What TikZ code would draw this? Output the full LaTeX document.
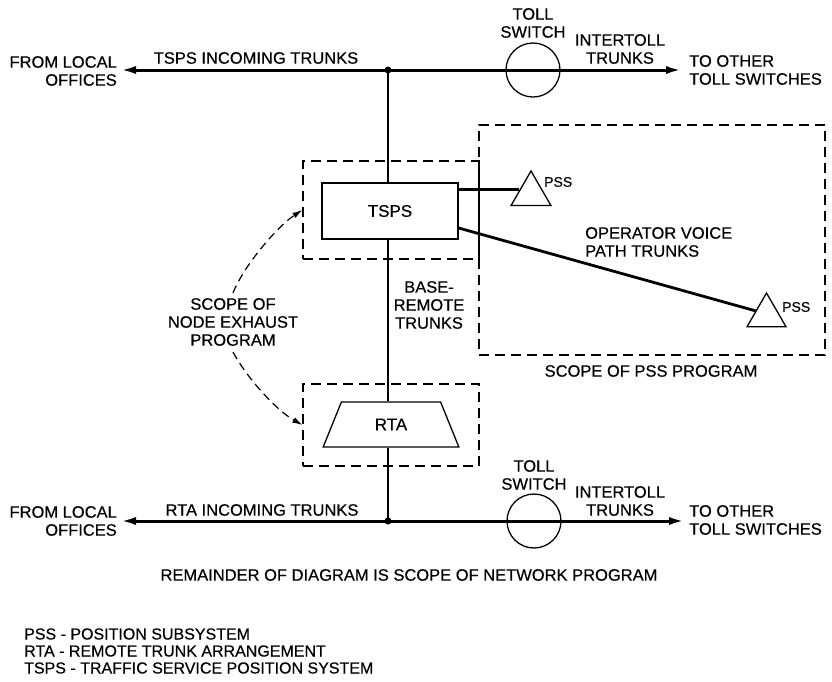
\documentclass[tikz,border=0pt]{standalone}
\usepackage{fontspec}
\setmainfont[FakeBold=0.4]{Liberation Sans}
\usetikzlibrary{arrows.meta,shapes.geometric}
\begin{document}
\begin{tikzpicture}[x=1pt,y=-1pt,
  lbl/.style={inner sep=0pt, font=\fontsize{16.5}{18}\selectfont, align=center},
  small/.style={inner sep=0pt, font=\fontsize{14}{16}\selectfont},
  trunk/.style={line width=3pt},
  vline/.style={line width=2.8pt},
  arr/.style={-{Latex[length=16pt,width=8pt]}},
  dbox/.style={draw, dash pattern=on 10pt off 6pt, line width=1.3pt, inner sep=0pt},
  blk/.style={draw, line width=1.3pt, inner sep=0pt, font=\fontsize{17}{18}\selectfont},
  tri/.style={draw, regular polygon, regular polygon sides=3, inner sep=0pt, line width=1.3pt},
  sw/.style={draw, circle, minimum size=54pt, inner sep=0pt, line width=1.3pt},
  dcurve/.style={dash pattern=on 8pt off 5pt, line width=1.2pt, -{Latex[length=10pt,width=6pt]}},
  jdot/.style={fill=black}]
\useasboundingbox (0,0) rectangle (832,681);

% dashed scope boxes
\node[dbox, minimum width=176pt, minimum height=98pt] (ne1) at (391,210) {};
\node[dbox, minimum width=176pt, minimum height=82pt] (ne2) at (391,425) {};
\node[dbox, minimum width=346pt, minimum height=230pt] (pssbox) at (652,240) {};

% blocks
\node[blk, minimum width=136pt, minimum height=56pt] (tsps) at (390,211) {TSPS};
\node[blk, trapezium, trapezium stretches=true, trapezium left angle=63, trapezium right angle=63,
      minimum width=136pt, minimum height=45pt] (rta) at (391,424.5) {RTA};
\node[tri, minimum size=46pt] (pss1) at (531,194) {};
\node[tri, minimum size=45pt] (pss2) at (766.5,315.5) {};

% toll switches
\node[sw] (ts1) at (533,70) {};
\node[sw] (ts2) at (534,521) {};

% junctions and free ends
\coordinate (jt) at (388,70);
\coordinate (jb) at (388,521);
\coordinate (lt) at (120,70);
\coordinate (rt) at (682,70);
\coordinate (lb) at (120,521);
\coordinate (rb) at (685,521);

% trunk lines
\draw[trunk, arr] (jt) -- (lt);
\draw[trunk, arr] (jt) -- (rt);
\draw[trunk, arr] (jb) -- (lb);
\draw[trunk, arr] (jb) -- (rb);
\draw[vline] (jt) -- (jt |- tsps.north);
\draw[vline] (tsps.south -| jt) -- (rta.north -| jt);
\draw[vline] (rta.south -| jt) -- (jb);
\fill[jdot] (jt) circle (3.5pt);
\fill[jdot] (jb) circle (3.5pt);

% operator voice path trunks
\draw[trunk] (tsps.east |- pss1.160) -- (pss1.160);
\draw[vline] ([yshift=-17pt]tsps.east) -- (pss2.157);

% labels
\node[lbl, anchor=east, align=right] (from1) at (117,71) {FROM LOCAL\\OFFICES};
\node[lbl] (tin) at (256,58) {TSPS INCOMING TRUNKS};
\node[lbl] (tsw1) at (533,23) {TOLL\\SWITCH};
\node[lbl] (it1) at (620,49) {INTERTOLL\\TRUNKS};
\node[lbl, anchor=west, align=left] (to1) at (689,70) {TO OTHER\\TOLL SWITCHES};

\node[lbl, anchor=east, align=right] (from2) at (117,521) {FROM LOCAL\\OFFICES};
\node[lbl] (rin) at (262,510) {RTA INCOMING TRUNKS};
\node[lbl] (tsw2) at (534,475) {TOLL\\SWITCH};
\node[lbl] (it2) at (620,501) {INTERTOLL\\TRUNKS};
\node[lbl, anchor=west, align=left] (to2) at (689,520) {TO OTHER\\TOLL SWITCHES};

\node[small, anchor=west] (pl1) at (544,182) {PSS};
\node[small, anchor=west] (pl2) at (782,307) {PSS};
\node[lbl, anchor=west, align=left] (ovp) at (585,242) {OPERATOR VOICE\\PATH TRUNKS};
\node[lbl] (spss) at (651,371) {SCOPE OF PSS PROGRAM};
\node[lbl] (brt) at (429,305) {BASE-\\REMOTE\\TRUNKS};
\node[lbl] (scope) at (233,322) {SCOPE OF\\NODE EXHAUST\\PROGRAM};

\draw[dcurve] ([yshift=5pt]scope.north) .. controls (244,265) and (278,226) .. (ne1.west);
\draw[dcurve] ([yshift=-6pt]scope.south) .. controls (247,378) and (276,410) .. (ne2.west);

\node[lbl] (rem) at (409,575) {REMAINDER OF DIAGRAM IS SCOPE OF NETWORK PROGRAM};
\node[lbl, anchor=west, align=left, font=\fontsize{16}{17}\selectfont] (legend) at (24,651)
  {PSS - POSITION SUBSYSTEM\\RTA - REMOTE TRUNK ARRANGEMENT\\TSPS - TRAFFIC SERVICE POSITION SYSTEM};
\end{tikzpicture}
\end{document}
